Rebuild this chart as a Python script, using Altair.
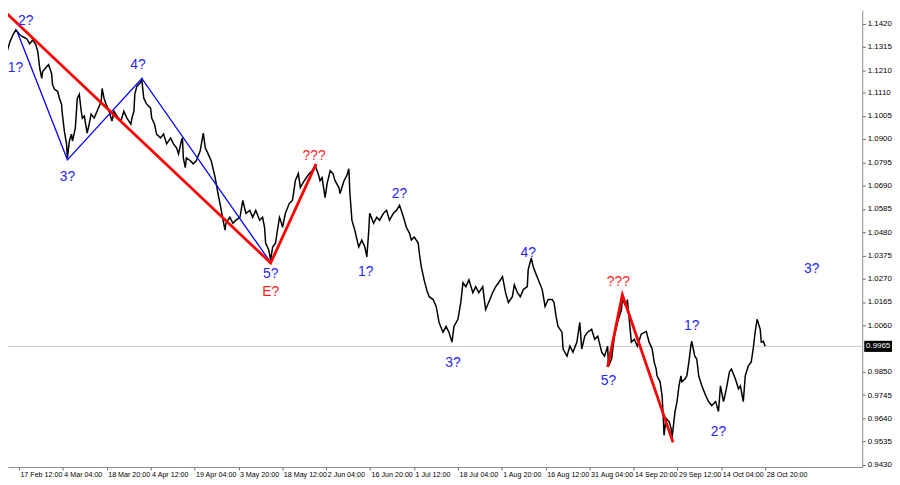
import altair as alt
import pandas as pd

FONT = "Liberation Sans"

# ---- price series (bar index, close) ----
seg1_t = [11.4, 12.3, 13.2, 14.1, 14.6, 15.9, 17.3, 18.6, 20.4, 21.8,
          23.6, 24.9, 26.3, 27.7, 28.6, 29.5, 30.4, 30.8, 32.6, 33.5,
          34.9, 35.3, 36.2, 37.6, 38.5, 39.4, 39.8, 40.7, 41.7, 42.1,
          43.0, 43.9, 44.4, 45.7, 46.6, 47.5, 48.4, 48.9, 49.8, 50.7,
          51.1, 52.0, 52.9, 54.3, 55.6, 57.5, 57.9, 58.8, 59.7, 61.1,
          62.4, 63.3, 64.7, 66.5, 67.8, 69.2, 71.0, 71.5, 72.4, 72.8,
          73.7, 75.1, 76.0, 76.4, 76.9, 78.2, 80.0, 80.5, 81.8, 82.7,
          84.5, 85.9, 87.3, 89.1, 90.4, 91.8, 92.7, 94.0, 94.5, 94.9,
          95.8, 96.3, 98.1, 99.4, 100.8, 102.6, 104.0, 104.9, 106.2, 107.6,
          109.4, 110.7]
seg1_p = [1.1459, 1.1396, 1.1352, 1.1325, 1.1294, 1.1338, 1.1370, 1.1392, 1.1370, 1.1361,
          1.1352, 1.1329, 1.1347, 1.1325, 1.1294, 1.1218, 1.1173, 1.1204, 1.1226, 1.1235,
          1.1195, 1.1146, 1.1124, 1.1115, 1.1083, 1.1057, 1.1012, 1.0936, 1.0878, 1.0815,
          1.0891, 1.0922, 1.0891, 1.0949, 1.1083, 1.1101, 1.1025, 1.0994, 1.1003, 1.0949,
          1.0927, 1.0967, 1.1012, 1.0994, 1.1025, 1.1070, 1.1128, 1.1083, 1.1057, 1.1025,
          1.0981, 1.1025, 1.1003, 1.0981, 1.1025, 1.0994, 1.0967, 1.0994, 1.1025, 1.1101,
          1.1137, 1.1151, 1.1168, 1.1128, 1.1083, 1.1057, 1.1039, 1.0994, 1.0967, 1.0922,
          1.0905, 1.0922, 1.0878, 1.0905, 1.0878, 1.0860, 1.0833, 1.0891, 1.0905, 1.0815,
          1.0771, 1.0815, 1.0802, 1.0788, 1.0802, 1.0847, 1.0927, 1.0860, 1.0833, 1.0802,
          1.0726, 1.0654]

seg2_t = [111.6, 113.0, 113.9, 114.3, 116.1, 117.5, 118.9, 120.7, 122.0, 123.4,
          125.2, 126.5, 127.9, 129.7, 131.0, 131.9, 132.4, 133.8, 134.7, 135.6,
          136.9, 138.7, 139.2, 140.1, 141.4, 143.2, 144.6, 145.5, 145.9, 147.3,
          148.2, 150.0, 152.3, 153.6, 155.0, 156.3, 157.2, 158.1, 159.5, 160.4,
          161.8, 163.1, 164.0, 165.8, 166.3, 168.1, 169.4, 170.3, 170.8, 171.7,
          173.0, 174.8, 176.2, 177.6, 178.5, 179.4, 179.8, 181.6, 183.0, 184.3,
          186.1, 187.5, 188.8, 190.6, 192.0, 193.4, 195.2, 196.5, 197.9, 198.8,
          200.1, 201.9, 202.4, 203.3, 204.6, 206.0, 206.9]
seg2_p = [1.0610, 1.0534, 1.0489, 1.0520, 1.0547, 1.0520, 1.0534, 1.0547, 1.0623, 1.0565,
          1.0578, 1.0547, 1.0578, 1.0534, 1.0547, 1.0502, 1.0431, 1.0400, 1.0355, 1.0413,
          1.0431, 1.0547, 1.0534, 1.0502, 1.0565, 1.0610, 1.0623, 1.0681, 1.0712, 1.0744,
          1.0681, 1.0712, 1.0744, 1.0757, 1.0779, 1.0744, 1.0712, 1.0726, 1.0636, 1.0699,
          1.0757, 1.0744, 1.0712, 1.0681, 1.0654, 1.0712, 1.0735, 1.0766, 1.0654, 1.0534,
          1.0489, 1.0413, 1.0444, 1.0413, 1.0368, 1.0489, 1.0565, 1.0520, 1.0547, 1.0534,
          1.0565, 1.0578, 1.0534, 1.0565, 1.0578, 1.0601, 1.0547, 1.0502, 1.0476, 1.0444,
          1.0458, 1.0431, 1.0386, 1.0324, 1.0265, 1.0212, 1.0189]

seg3_t = [208.7, 210.1, 211.4, 213.2, 214.6, 215.9, 217.3, 218.2, 220.0, 221.3,
          222.3, 223.6, 225.0, 226.8, 228.1, 229.5, 231.3, 232.6, 234.0, 235.8,
          237.2, 238.5, 240.3, 241.7, 243.0, 244.8, 245.7, 247.1, 248.4, 249.8,
          251.6, 252.0, 253.4, 254.3, 255.2, 256.6, 258.4, 259.7, 261.1, 262.9,
          263.8, 264.7, 265.6, 267.4, 267.9, 269.7, 271.0, 272.4, 274.2, 275.5,
          276.4, 277.8, 279.1, 280.9, 282.3, 283.7, 285.5, 286.8, 288.2, 288.6,
          290.0, 291.3, 292.7, 294.5, 294.9, 296.7, 297.2, 299.0, 300.4, 301.7,
          303.5]
seg3_p = [1.0176, 1.0145, 1.0073, 1.0029, 1.0055, 1.0029, 0.9984, 1.0055, 1.0087, 1.0163,
          1.0252, 1.0234, 1.0265, 1.0207, 1.0234, 1.0207, 1.0234, 1.0131, 1.0163, 1.0207,
          1.0234, 1.0252, 1.0279, 1.0207, 1.0163, 1.0189, 1.0243, 1.0207, 1.0189, 1.0221,
          1.0234, 1.0310, 1.0364, 1.0324, 1.0300, 1.0265, 1.0221, 1.0145, 1.0176, 1.0176,
          1.0163, 1.0100, 1.0055, 1.0029, 0.9953, 0.9921, 0.9966, 0.9939, 0.9984, 1.0073,
          0.9953, 1.0011, 1.0029, 1.0042, 0.9997, 1.0011, 0.9939, 0.9921, 0.9966, 0.9877,
          0.9908, 1.0011, 1.0073, 1.0131, 1.0176, 1.0145, 1.0176, 0.9984, 0.9997, 0.9966,
          1.0020]

seg4_t = [305.8, 307.1, 308.5, 309.4, 310.3, 310.7, 312.1, 313.0, 313.5, 313.9,
          314.8, 316.2, 317.1, 317.5, 318.9, 319.8, 320.7, 321.6, 322.0, 323.4,
          324.3, 325.2, 326.1, 326.5, 327.9, 328.8, 329.7, 331.1, 332.9, 334.2,
          335.6, 337.4, 338.7, 339.6, 341.0, 342.3, 343.7, 344.6, 346.4, 347.8,
          348.7, 350.0, 350.9, 352.3, 353.6, 354.5, 355.4, 356.3, 357.7, 358.2,
          359.1, 360.0]
seg4_p = [1.0033, 0.9984, 0.9953, 0.9894, 0.9863, 0.9832, 0.9805, 0.9742, 0.9653, 0.9564,
          0.9640, 0.9626, 0.9595, 0.9550, 0.9671, 0.9716, 0.9787, 0.9832, 0.9805, 0.9818,
          0.9832, 0.9894, 0.9966, 0.9988, 0.9921, 0.9908, 0.9832, 0.9787, 0.9742, 0.9716,
          0.9698, 0.9716, 0.9671, 0.9787, 0.9716, 0.9774, 0.9850, 0.9863, 0.9818, 0.9774,
          0.9787, 0.9716, 0.9832, 0.9877, 0.9894, 0.9953, 1.0029, 1.0087, 1.0042, 0.9984,
          0.9988, 0.9965]

# ---- wave lines ----
blue_t = [19.1, 42.1, 76.0, 134.2]
blue_p = [1.1387, 1.0806, 1.1173, 1.0350]

red_seg = ["A", "A", "A", "B", "B", "B"]
red_t = [11.4, 134.7, 155.4, 288.2, 294.9, 318.0]
red_p = [1.1495, 1.0341, 1.0788, 0.9872, 1.0198, 0.9532]

# ---- wave labels ----
label_text = ["1?", "2?", "3?", "4?", "5?", "1?", "2?", "3?", "4?", "5?", "1?", "2?", "3?",
              "???", "E?", "???"]
label_t = [18.4, 23.1, 42.1, 74.2, 134.7, 178.0, 193.4, 217.7, 252.0, 288.6, 326.5, 338.7, 381.2,
           154.5, 134.7, 293.1]
label_p = [1.1218, 1.1432, 1.0730, 1.1235, 1.0292, 1.0301, 1.0650, 0.9890, 1.0386, 0.9810, 1.0055,
           0.9577, 1.0315, 1.0824, 1.0212, 1.0257]
label_color = ["#2525ff"] * 13 + ["#ff1f1f"] * 3

last_price = 0.9965

# ---- axes ----
x_tick_t = [20, 40, 60, 80, 100, 120, 140, 160, 180, 200, 220, 240, 260, 280, 300, 320, 340, 360]
x_tick_text = ["17 Feb 12:00", "4 Mar 04:00", "18 Mar 20:00", "4 Apr 12:00", "19 Apr 04:00",
               "3 May 20:00", "18 May 12:00", "2 Jun 04:00", "16 Jun 20:00", "1 Jul 12:00",
               "18 Jul 04:00", "1 Aug 20:00", "16 Aug 12:00", "31 Aug 04:00", "14 Sep 20:00",
               "29 Sep 12:00", "14 Oct 04:00", "28 Oct 20:00"]
y_tick_values = [0.9430, 0.9535, 0.9640, 0.9745, 0.9850, 1.0060, 1.0165, 1.0270, 1.0375,
                 1.0480, 1.0585, 1.0690, 1.0795, 1.0900, 1.1005, 1.1110, 1.1210, 1.1315, 1.1420]

price = pd.DataFrame({"t": seg1_t + seg2_t + seg3_t + seg4_t,
                      "p": seg1_p + seg2_p + seg3_p + seg4_p})
price["i"] = range(len(price))
blue = pd.DataFrame({"t": blue_t, "p": blue_p})
blue["i"] = range(len(blue))
red = pd.DataFrame({"seg": red_seg, "t": red_t, "p": red_p})
red["i"] = range(len(red))
labels = pd.DataFrame({"txt": label_text, "t": label_t, "p": label_p, "c": label_color})
cur = pd.DataFrame({"p": [last_price], "txt": [f"{last_price:.4f}"]})

xs = alt.Scale(domain=[15.03, 404.2], nice=False, zero=False)
ys = alt.Scale(domain=[0.9421, 1.1481], nice=False, zero=False)

label_expr = ""
for v, s in zip(x_tick_t, x_tick_text):
    label_expr += f"datum.value == {v} ? '{s}' : "
label_expr += "''"

x_axis = alt.Axis(values=x_tick_t, labelExpr=label_expr, orient="bottom", labelAlign="left",
                  labelBaseline="top", labelPadding=1, tickSize=3, labelFont=FONT,
                  labelFontSize=7.2, labelColor="black", domainColor="#8c8c8c",
                  tickColor="#666666", grid=False, title=None, labelOverlap=False,
                  labelFlush=False, labelOffset=1)
y_axis = alt.Axis(values=y_tick_values, format=".4f", orient="right", labelAlign="left",
                  labelBaseline="middle", labelPadding=2, tickSize=3, labelFont=FONT,
                  labelFontSize=8, labelColor="black", domainColor="#8c8c8c",
                  tickColor="#666666", grid=False, title=None, labelOverlap=False,
                  labelFlush=False)

X = alt.X("t:Q", scale=xs, axis=x_axis)
Y = alt.Y("p:Q", scale=ys, axis=y_axis)

price_line = alt.Chart(price).mark_line(color="black", strokeWidth=1.5, clip=True).encode(
    x=X, y=Y, order="i:Q")

cur_rule = alt.Chart(cur).mark_rule(color="#c8c8c8", strokeWidth=1).encode(y=Y)

blue_line = alt.Chart(blue).mark_line(color="#0000ff", strokeWidth=1.3, clip=True).encode(
    x=X, y=Y, order="i:Q")

red_line = alt.Chart(red).mark_line(color="#ff0000", strokeWidth=2.8, clip=True).encode(
    x=X, y=Y, detail="seg:N", order="i:Q")

label_layer = alt.Chart(labels).mark_text(font=FONT, fontSize=14, align="center",
                                          baseline="middle").encode(
    x=X, y=Y, text="txt:N", color=alt.Color("c:N", scale=None))

box = alt.Chart(cur).mark_point(shape="M-1,-0.4L1,-0.4L1,0.4L-1,0.4Z", size=784, filled=True,
                                color="black", opacity=1, strokeWidth=0).encode(
    x=alt.value(878), y=Y)

box_text = alt.Chart(cur).mark_text(font=FONT, fontSize=8, color="white", align="center",
                                    baseline="middle").encode(
    x=alt.value(878), y=Y, text="txt:N")

chart = alt.layer(cur_rule, price_line, blue_line, red_line, label_layer, box, box_text).properties(
    width=862, height=461,
    autosize=alt.AutoSizeParams(type="none"),
    padding={"left": 0, "top": 0, "right": 30, "bottom": 16},
    background="white",
).configure_view(strokeWidth=0)

chart.save("out.html", embed_options={"renderer": "svg", "actions": False})
